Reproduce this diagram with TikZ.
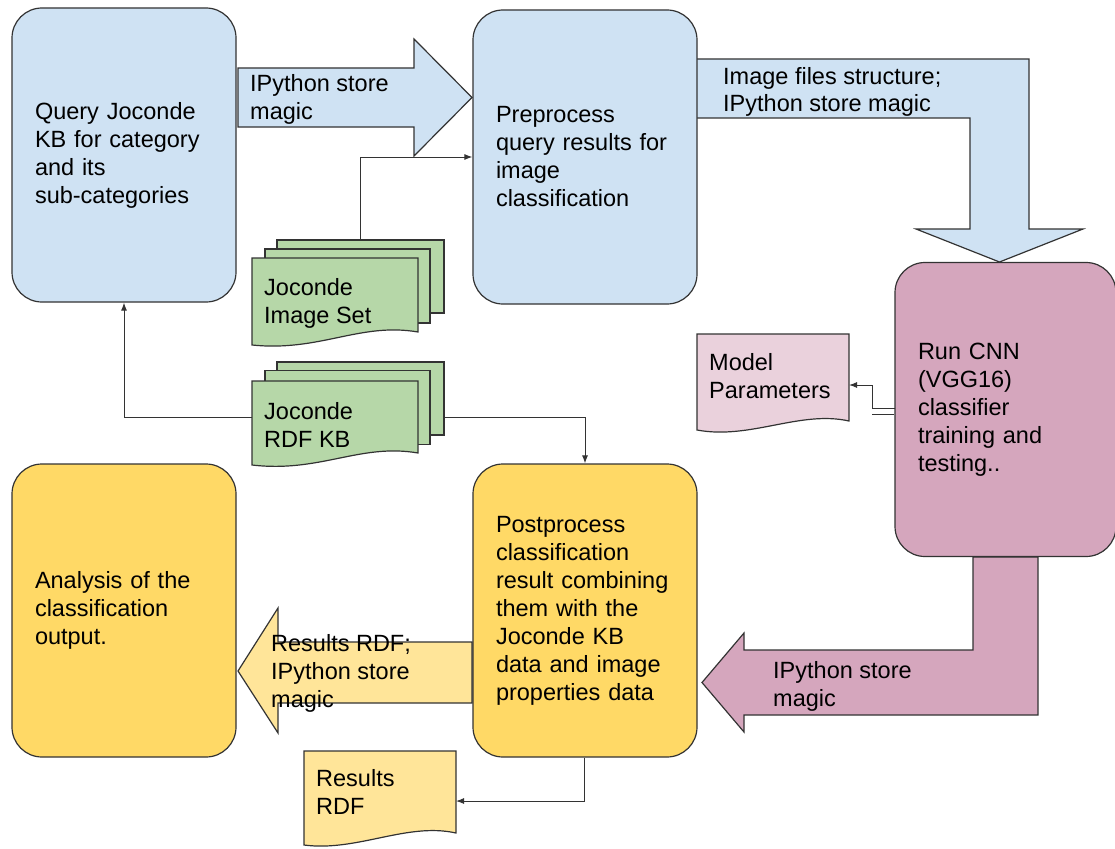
\documentclass[tikz,border=0pt]{standalone}
\usepackage{fontspec}
\setmainfont{Liberation Sans}
\usetikzlibrary{arrows.meta,calc}
\definecolor{bluef}{HTML}{CFE2F3}
\definecolor{pinkf}{HTML}{D5A6BD}
\definecolor{yelf}{HTML}{FFD966}
\definecolor{ltyel}{HTML}{FFE599}
\definecolor{greenf}{HTML}{B6D7A8}
\definecolor{ltpink}{HTML}{EAD1DC}
\definecolor{edge}{HTML}{333333}
\begin{document}
\begin{tikzpicture}[x=1pt,y=-1pt,
 font=\fontsize{23.5}{28}\selectfont,
 box/.style={draw=edge, line width=1.2pt, rounded corners=30pt, minimum width=224pt, minimum height=294pt, text width=178pt, inner xsep=23pt, align=left},
 barrow/.style={draw=edge, line width=1.2pt, line join=miter},
 lbl/.style={anchor=west, align=left, inner sep=0pt},
 conn/.style={draw=edge, line width=1pt, -{Latex[length=8pt,width=6pt]}},
 sheet/.style={draw=edge, line width=1.2pt},
 backsheet/.style={sheet, minimum width=167pt, minimum height=73pt, inner sep=0pt},
 midsheet/.style={sheet, minimum width=165pt, minimum height=74pt, inner sep=0pt}
]
\useasboundingbox (0,0) rectangle (1115,848);

% block arrows
\draw[barrow, fill=bluef] (238,68) -- (414,68) -- (414,39) -- (472,97.5) -- (414,156) -- (414,127) -- (238,127) -- cycle;
\draw[barrow, fill=bluef] (696,59) -- (1029,59) -- (1029,229) -- (1083,229) -- (999.5,262) -- (916,229) -- (970,229) -- (970,118) -- (696,118) -- cycle;
\draw[barrow, fill=pinkf] (973,557) -- (1038,557) -- (1038,715) -- (744,715) -- (744,732) -- (702,682.5) -- (744,633) -- (744,650) -- (973,650) -- cycle;
\draw[barrow, fill=ltyel] (472,642) -- (278,642) -- (278,608) -- (238,671) -- (278,733) -- (278,703) -- (472,703) -- cycle;

% boxes
\node[box, fill=bluef] (A) at (124,155) {Query Joconde\\KB for category\\and its\\sub-categories};
\node[box, fill=bluef] (B) at (585,157) {Preprocess\\query results for\\image\\classification};
\node[box, fill=pinkf, minimum width=221pt, text width=175pt] (C) at (1005.5,409.5) {Run CNN\\(VGG16)\\classifier\\training and\\testing..};
\node[box, fill=yelf, minimum height=293pt] (D) at (585,610.5) {Postprocess\\classification\\result combining\\them with the\\Joconde KB\\data and image\\properties data};
\node[box, fill=yelf, minimum height=293pt] (E) at (124,610.5) {Analysis of the\\classification\\output.};

% arrow labels
\node[lbl] (t1) at (250,99) {IPython store\\magic};
\node[lbl, font=\fontsize{23.5}{27}\selectfont] (t2) at (723,91.5) {Image files structure;\\IPython store magic};
\node[lbl] (t3) at (773,686) {IPython store\\magic};
\node[lbl] (t4) at (271,673) {Results RDF;\\IPython store\\magic};

% Image set stack
\node[backsheet, fill=greenf] (imgback) at (360.5,276.5) {};
\node[midsheet, fill=greenf] (imgmid) at (347.5,286) {};
\draw[sheet, fill=greenf] (252,258) -- (418,258) -- (418,332) .. controls (360,322) and (320,352) .. (252,345) -- cycle;
\node[lbl] (imgset) at (264,303) {Joconde\\Image Set};

% RDF KB stack
\coordinate (rdfL) at (252,417);
\coordinate (rdfR) at (444,417);
\draw[conn] (rdfL) -| (A.south);
\draw[conn] (rdfR) -| (D.north);
\node[backsheet, fill=greenf] (rdfback) at (360.5,398.5) {};
\node[midsheet, fill=greenf] (rdfmid) at (347.5,407.5) {};
\draw[sheet, fill=greenf] (252,381) -- (418,381) -- (418,453) .. controls (360,443) and (320,473) .. (252,465) -- cycle;
\node[lbl] (rdfkb) at (264,425) {Joconde\\RDF KB};

% image set connector
\draw[conn] (imgback.north) |- (B.west);

% Model parameters
\draw[sheet, fill=ltpink] (697,334) -- (849,334) -- (849,421) .. controls (800,410) and (750,440) .. (697,430) -- cycle;
\node[lbl] (mp) at (709,376) {Model\\Parameters};
\coordinate (cL) at (895,408);
\coordinate (mpE) at (849,385);
\draw[conn] (cL) -- (872,408) |- (mpE);
\draw[draw=edge, line width=1pt] (872,414) -- (C.west |- 0,414);

% Results RDF
\draw[sheet, fill=ltyel] (304,751) -- (456,751) -- (456,833) .. controls (407,822) and (357,852) .. (304,845) -- cycle;
\node[lbl] (rr) at (316,792) {Results\\RDF};
\coordinate (rrE) at (456,801);
\draw[conn] (D.south -| 584,0) |- (rrE);
\end{tikzpicture}
\end{document}
